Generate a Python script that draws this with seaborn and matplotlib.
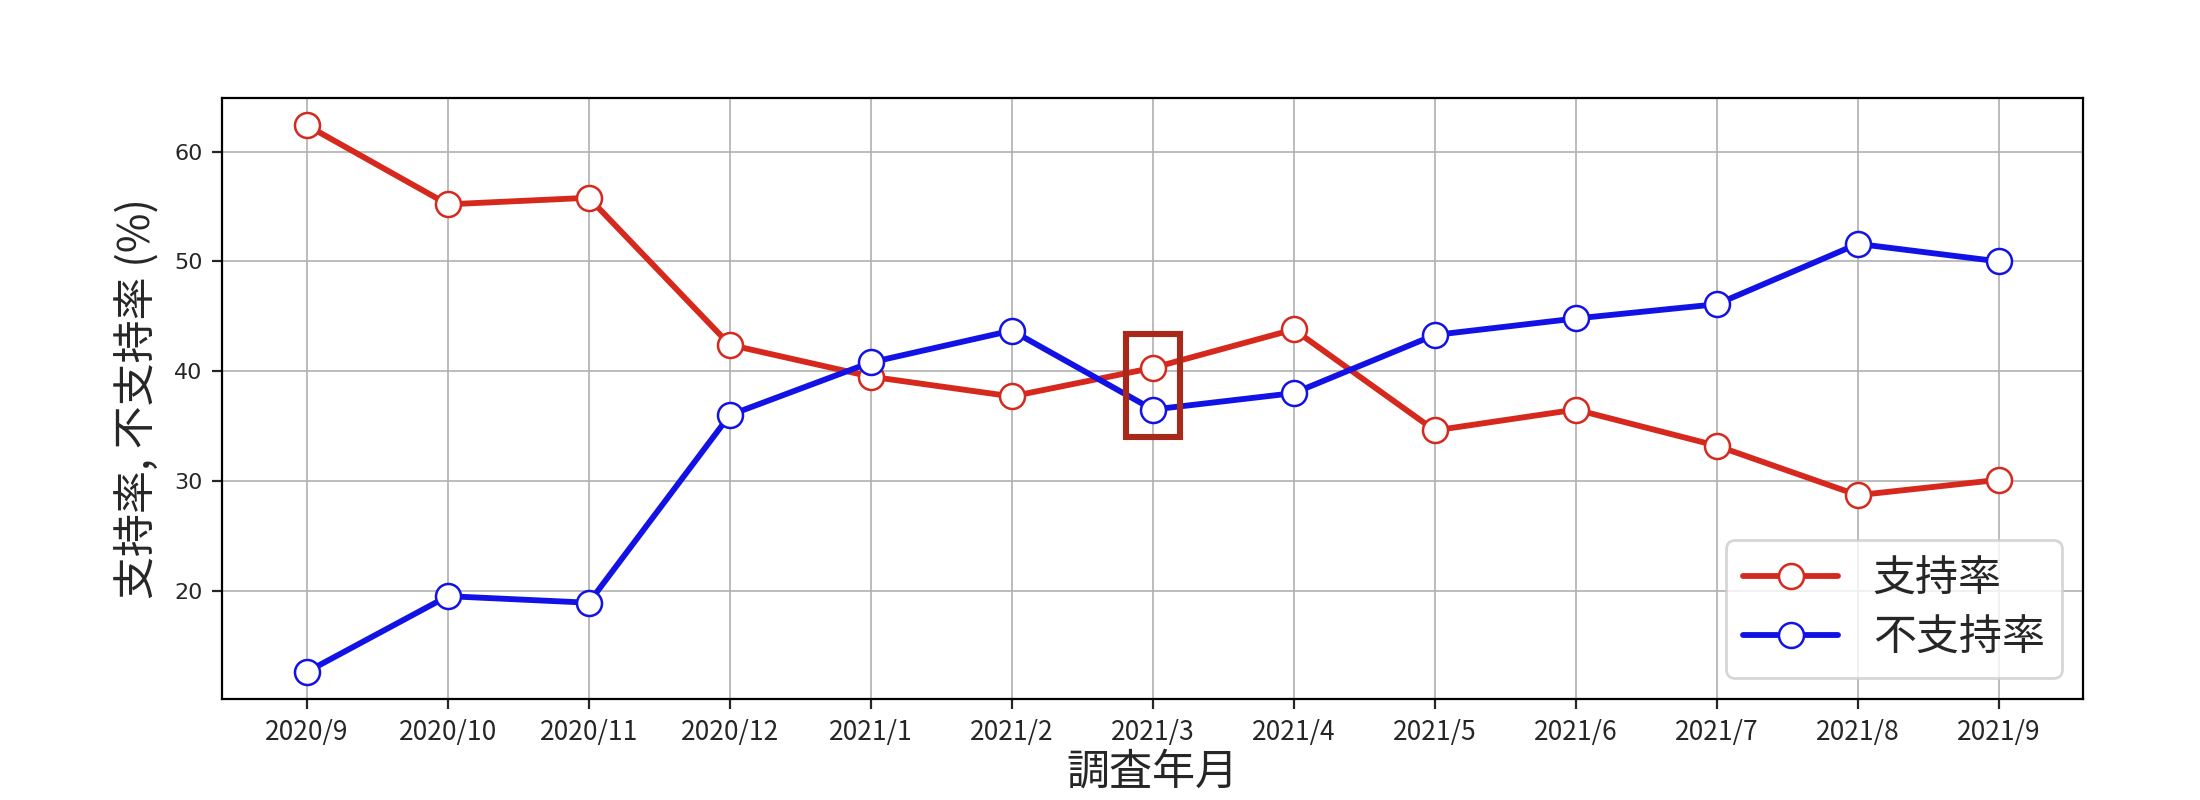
import matplotlib
matplotlib.use("Agg")
import matplotlib.pyplot as plt
import numpy as np
import pandas as pd
import seaborn as sns
from matplotlib.lines import Line2D
from matplotlib.patches import Rectangle

months = ["2020/9", "2020/10", "2020/11", "2020/12", "2021/1", "2021/2", "2021/3",
          "2021/4", "2021/5", "2021/6", "2021/7", "2021/8", "2021/9"]
support = [62.4, 55.2, 55.8, 42.4, 39.5, 37.7, 40.3, 43.8, 34.6, 36.5, 33.2, 28.7, 30.1]
nonsupport = [12.6, 19.5, 18.9, 36.0, 40.8, 43.7, 36.5, 38.0, 43.3, 44.8, 46.1, 51.6, 50.0]
series_names = ["支持率", "不支持率"]
highlight_month = "2021/3"

RED, BLUE = "#d6281c", "#1212e6"
LW, MS = 2.1, 9

sns.set_style("ticks")
plt.rcParams["font.family"] = ["Noto Sans CJK JP", "DejaVu Sans"]

df = pd.DataFrame({
    "idx": list(range(len(months))) * 2,
    "value": support + nonsupport,
    "series": [series_names[0]] * len(months) + [series_names[1]] * len(months),
})

fig, ax = plt.subplots(figsize=(11, 4), dpi=200)
fig.subplots_adjust(left=0.101, right=0.947, top=0.8775, bottom=0.126)

sns.lineplot(data=df, x="idx", y="value", hue="series", hue_order=series_names,
             palette=[RED, BLUE], marker="o", markersize=MS, markerfacecolor="white",
             markeredgewidth=0.9, linewidth=LW, ax=ax, legend=False)
for line, c in zip(ax.lines, [RED, BLUE]):
    line.set_markeredgecolor(c)

ax.set_xticks(range(len(months)))
ax.set_xticklabels(months, fontsize=9.5)
ax.set_yticks([20, 30, 40, 50, 60])
ax.set_yticklabels([20, 30, 40, 50, 60], fontsize=8, family="DejaVu Sans")
ax.grid(True, color="#b0b0b0", linewidth=0.6)
ax.set_axisbelow(True)
for s in ax.spines.values():
    s.set_color("black")
    s.set_linewidth(0.8)

ax.set_xlabel("調査年月", fontsize=15.5, labelpad=2)
ax.set_ylabel("支持率, 不支持率 (%)", fontsize=15.5, labelpad=5)

# highlight box around the 2021/3 points
hi = months.index(highlight_month)
box_lo, box_hi = 34.0, 43.4
ax.add_patch(Rectangle((hi - 0.19, box_lo), 0.38, box_hi - box_lo, fill=False,
                       edgecolor="#a8281a", linewidth=2.2, zorder=5))

handles = [Line2D([], [], color=c, marker="o", markersize=MS, markerfacecolor="white",
                  markeredgecolor=c, markeredgewidth=0.9, linewidth=LW) for c in [RED, BLUE]]
ax.legend(handles, series_names, loc="lower right", fontsize=15.5, frameon=True,
          handlelength=2.2, borderpad=0.4, labelspacing=0.35, handletextpad=0.8)

fig.savefig("out.png", dpi=200)
